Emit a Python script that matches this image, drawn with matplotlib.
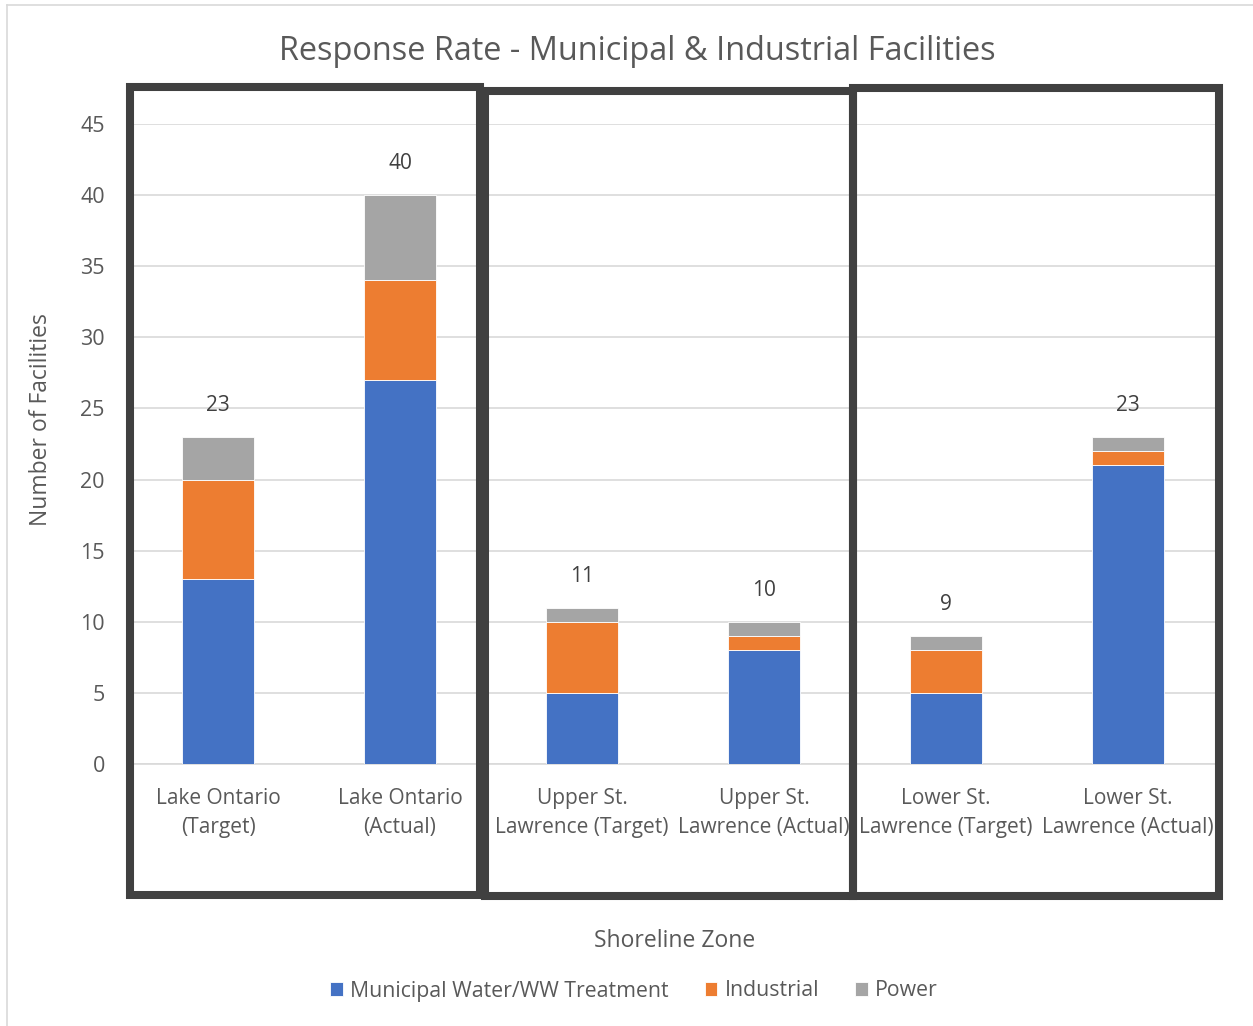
import matplotlib
matplotlib.use("Agg")
import matplotlib.pyplot as plt
from matplotlib.patches import Rectangle
from matplotlib.lines import Line2D
import numpy as np

plt.rcParams['font.family'] = ['Open Sans', 'DejaVu Sans']

categories = ["Lake Ontario\n(Target)", "Lake Ontario\n(Actual)",
              "Upper St.\nLawrence (Target)", "Upper St.\nLawrence (Actual)",
              "Lower St.\nLawrence (Target)", "Lower St.\nLawrence (Actual)"]
municipal = [13, 27, 5, 8, 5, 21]
industrial = [7, 7, 5, 1, 3, 1]
power = [3, 6, 1, 1, 1, 1]
series_names = ["Municipal Water/WW Treatment", "Industrial", "Power"]
colors = ["#4472C4", "#ED7D31", "#A5A5A5"]

W, H = 1253, 1026
fig = plt.figure(figsize=(W / 100, H / 100), dpi=100)
ax = fig.add_axes([127 / W, 1 - 764 / H, (1219 - 127) / W, (764 - 124) / H])

x = np.arange(len(categories))
bottom = np.zeros(len(categories))
for vals, name, c in zip([municipal, industrial, power], series_names, colors):
    ax.bar(x, vals, width=0.4, bottom=bottom, color=c, label=name,
           edgecolor="white", linewidth=0.6, zorder=3)
    bottom = bottom + np.array(vals)

for xi, tot in zip(x, bottom):
    ax.annotate(f"{int(tot)}", (xi, tot), xytext=(0, 22.5), textcoords="offset points",
                ha="center", va="center", fontsize=15, color="#404040")

ax.set_xlim(-0.5, len(categories) - 0.5)
ax.set_ylim(0, 45)
ax.set_yticks(range(0, 46, 5))
ax.yaxis.grid(True, color="#d9d9d9", linewidth=1.2, zorder=0)
ax.set_axisbelow(True)
for s in ["top", "right", "left"]:
    ax.spines[s].set_visible(False)
ax.spines["bottom"].set_color("#d9d9d9")
ax.spines["bottom"].set_linewidth(1.2)
ax.tick_params(axis="both", length=0, labelsize=15.5, colors="#595959")
ax.tick_params(axis="y", pad=16)
ax.tick_params(axis="x", labelsize=15, pad=17)
ax.set_xticks(x)
ax.set_xticklabels(categories, linespacing=1.52)

fig.text(637 / W, 1 - 51 / H, "Response Rate - Municipal & Industrial Facilities",
         ha="center", va="center", fontsize=23.4, color="#595959")
fig.text(41 / W, 1 - 420 / H, "Number of Facilities", rotation=90,
         ha="center", va="center", fontsize=16.5, color="#595959")
fig.text(675 / W, 1 - 941 / H, "Shoreline Zone",
         ha="center", va="center", fontsize=16.5, color="#595959")

# group boxes (figure pixels)
for left, right, top, bot in [(130, 480, 87, 895), (485, 853, 91, 896), (853, 1219, 88, 896)]:
    fig.patches.append(Rectangle((left / W, 1 - bot / H), (right - left) / W, (bot - top) / H,
                                 transform=fig.transFigure, fill=False,
                                 edgecolor="#404040", linewidth=5.8, zorder=5))

# chart border
fig.add_artist(Line2D([7 / W, 7 / W], [0, 1 - 5 / H], transform=fig.transFigure,
                      color="#d9d9d9", linewidth=1.2))
fig.add_artist(Line2D([7 / W, 1], [1 - 5 / H, 1 - 5 / H], transform=fig.transFigure,
                      color="#d9d9d9", linewidth=1.2))

fig.legend(loc="center", bbox_to_anchor=(634 / W, 1 - 991 / H), ncol=3, frameon=False,
           fontsize=15.3, handlelength=0.6, handleheight=0.6, handletextpad=0.33,
           columnspacing=1.7, labelcolor="#595959")

fig.savefig("out.png", dpi=100)
